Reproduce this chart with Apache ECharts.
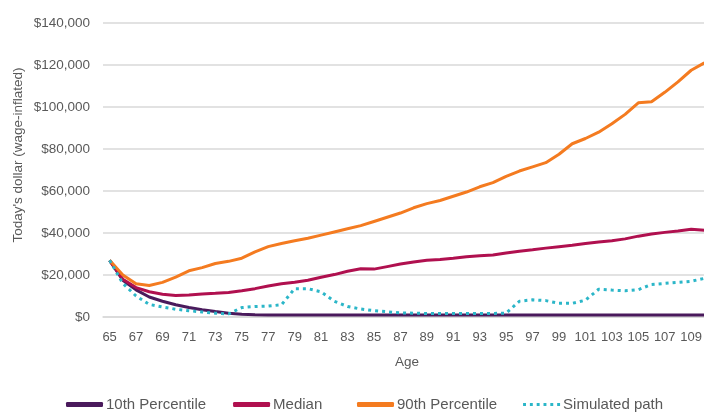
<!DOCTYPE html>
<html><head><meta charset="utf-8">
<script src="https://cdn.jsdelivr.net/npm/echarts@6/dist/echarts.min.js"></script>
<style>html,body{margin:0;padding:0;background:#fff;overflow:hidden;width:704px;height:412px}#c{width:711px;height:412px}</style>
</head><body><div id="c"></div>
<script>
const ages = [];
for (let a = 65; a <= 110; a++) ages.push(String(a));
const p10 = [27000,17500,12900,9500,7500,5800,4500,3500,2600,1800,1300,1100,1000,950,900,900,900,900,900,900,900,900,900,900,900,900,900,900,900,900,950,950,950,950,950,950,950,950,1000,1000,1000,1000,1000,1000,1000,1000];
const median = [27000,18000,14000,12000,10800,10200,10500,11000,11300,11700,12500,13500,14800,15800,16500,17500,18900,20200,21800,23000,22800,24000,25200,26200,27000,27400,28000,28700,29200,29500,30500,31300,32000,32800,33500,34200,35000,35700,36300,37200,38500,39500,40300,41000,41800,41300];
const p90 = [27000,20000,15800,15000,16500,19000,22000,23500,25500,26500,28000,31000,33500,35000,36300,37500,39000,40500,42000,43500,45500,47500,49500,52000,54000,55500,57500,59500,62000,64000,67000,69500,71500,73500,77500,82500,85000,88000,92000,96500,102000,102500,107000,112000,117500,121000];
const simulated = [27000,16000,10000,6000,4800,3700,3000,2400,1800,1500,4500,5000,5200,5800,13500,13500,12000,7500,5000,3800,3000,2500,2000,1800,1700,1700,1700,1700,1700,1700,1800,7500,8200,7800,6500,6500,8000,13200,12800,12500,13000,15500,16000,16500,17000,18400];

const font = 'Liberation Sans';
const grey = '#595959';
const chart = echarts.init(document.getElementById('c'));
const dotsIcon = 'path://M0,0h3v3h-3zM7,0h3v3h-3zM14,0h3v3h-3zM21,0h3v3h-3zM28,0h3v3h-3zM35,0h3v3h-3z';
const legendBase = {
  top: 397, padding: 0, itemWidth: 37, itemHeight: 5,
  textStyle: { color: grey, fontSize: 15, fontFamily: font, padding: [0, 0, 0, -2] }
};
chart.setOption({
  animation: false,
  textStyle: { fontFamily: font },
  grid: { left: 103, top: 23, right: 0, bottom: 95 },
  graphic: [{
    type: 'text', rotation: Math.PI / 2, x: 18, y: 155,
    style: { text: "Today's dollar (wage-inflated)", fill: grey, font: '13.5px "Liberation Sans"', textAlign: 'center', textVerticalAlign: 'middle' }
  }],
  xAxis: {
    type: 'category', data: ages, boundaryGap: true,
    name: 'Age', nameLocation: 'middle', nameGap: 38,
    nameTextStyle: { color: grey, fontSize: 13.5, fontFamily: font },
    axisLine: { lineStyle: { color: '#d9d9d9', width: 1.5 } },
    axisTick: { show: false },
    axisLabel: { interval: 1, color: grey, fontSize: 13, margin: 14, fontFamily: font }
  },
  yAxis: {
    type: 'value', min: 0, max: 140000, interval: 20000,
    axisLine: { show: false }, axisTick: { show: false },
    splitLine: { lineStyle: { color: '#d9d9d9', width: 1.5 } },
    axisLabel: { color: grey, fontSize: 13.5, margin: 13, fontFamily: font,
      formatter: v => '$' + v.toLocaleString('en-US') }
  },
  legend: [
    Object.assign({}, legendBase, { left: 66, itemGap: 27,
      data: [ { name: '10th Percentile', icon: 'roundRect' }, { name: 'Median', icon: 'roundRect' } ] }),
    Object.assign({}, legendBase, { left: 357, itemGap: 26,
      data: [ { name: '90th Percentile', icon: 'roundRect' }, { name: 'Simulated path', icon: dotsIcon } ] })
  ],
  series: [
    { name: '10th Percentile', type: 'line', data: p10, symbol: 'none', color: '#4a1a5c', lineStyle: { width: 3, color: '#4a1a5c' } },
    { name: 'Median', type: 'line', data: median, symbol: 'none', color: '#b0104f', lineStyle: { width: 3, color: '#b0104f' } },
    { name: '90th Percentile', type: 'line', data: p90, symbol: 'none', color: '#f47b20', lineStyle: { width: 3, color: '#f47b20' } },
    { name: 'Simulated path', type: 'line', data: simulated, symbol: 'none', color: '#2bb6c8', lineStyle: { width: 3, color: '#2bb6c8', type: [3, 4] } }
  ]
});
</script></body></html>
